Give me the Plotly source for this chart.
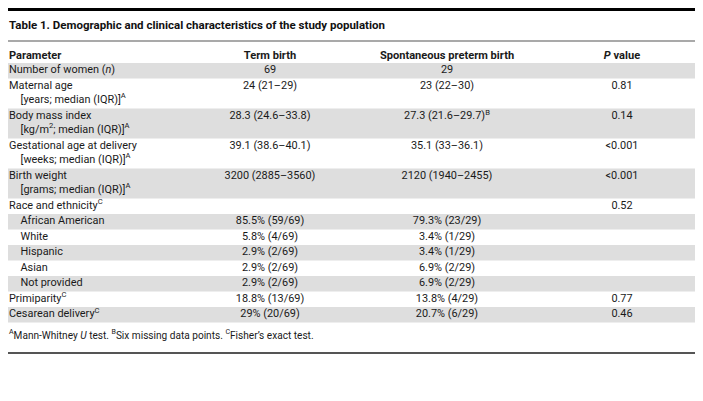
import plotly.graph_objects as go

# ---------------- data ----------------
title = "Table 1. Demographic and clinical characteristics of the study population"
headers = ["Parameter", "Term birth", "Spontaneous preterm birth", "<i>P</i> value"]

parameters = [
    "Number of women (<i>n</i>)",
    "Maternal age",
    "Body mass index",
    "Gestational age at delivery",
    "Birth weight",
    "Race and ethnicity<sup>C</sup>",
    "African American",
    "White",
    "Hispanic",
    "Asian",
    "Not provided",
    "Primiparity<sup>C</sup>",
    "Cesarean delivery<sup>C</sup>",
]
units = [
    "",
    "[years; median (IQR)]<sup>A</sup>",
    "[kg/m<sup>2</sup>; median (IQR)]<sup>A</sup>",
    "[weeks; median (IQR)]<sup>A</sup>",
    "[grams; median (IQR)]<sup>A</sup>",
    "", "", "", "", "", "", "", "",
]
indented = [False, False, False, False, False, False, True, True, True, True, True, False, False]

term_birth = [
    "69", "24 (21–29)", "28.3 (24.6–33.8)", "39.1 (38.6–40.1)", "3200 (2885–3560)", "",
    "85.5% (59/69)", "5.8% (4/69)", "2.9% (2/69)", "2.9% (2/69)", "2.9% (2/69)",
    "18.8% (13/69)", "29% (20/69)",
]
preterm_birth = [
    "29", "23 (22–30)", "27.3 (21.6–29.7)<sup>B</sup>", "35.1 (33–36.1)", "2120 (1940–2455)", "",
    "79.3% (23/29)", "3.4% (1/29)", "3.4% (1/29)", "6.9% (2/29)", "6.9% (2/29)",
    "13.8% (4/29)", "20.7% (6/29)",
]
p_values = ["", "0.81", "0.14", "&lt;0.001", "&lt;0.001", "0.52", "", "", "", "", "", "0.77", "0.46"]

footnote = ("<sup>A</sup>Mann-Whitney <i>U</i> test. <sup>B</sup>Six missing data points. "
            "<sup>C</sup>Fisher’s exact test.")

# ---------------- layout constants ----------------
W, H = 703, 401
FONT = "Roboto"
TXT = "#1a1a1a"
BAND = "#dedede"
RULE = "#555555"
FS = 10.9
FS_HEAD = 11.1
FS_TITLE = 11.5
FS_FOOT = 10.1

TITLE_Y = 18.5
TITLE_RULE_Y = 33
HEADER_Y = 48
TABLE_TOP = 55
SINGLE_H = 15.5
DOUBLE_H = 30
LINE1 = 8.0
LINE2 = 21.6
INDENT = 11.5
LEFT_X = 1
COL_X = [262, 439, 614]
FOOT_Y = 328
BOTTOM_RULE_Y = 345

# compute row geometry from the data structure
tops, heights = [], []
y = TABLE_TOP
for u in units:
    h = DOUBLE_H if u else SINGLE_H
    tops.append(y)
    heights.append(h)
    y += h

first_line_y = [t + (LINE1 if u else SINGLE_H / 2) for t, u in zip(tops, units)]

fig = go.Figure()

# row bands
shapes = []
for i, (t, h) in enumerate(zip(tops, heights)):
    if i % 2 == 0:
        shapes.append(dict(type="rect", xref="x", yref="y", x0=0, x1=W, y0=t, y1=t + h,
                           fillcolor=BAND, line=dict(width=0), layer="below"))
# rules
shapes.append(dict(type="rect", xref="x", yref="y", x0=0, x1=W, y0=0, y1=3,
                   fillcolor="#000000", line=dict(width=0)))
shapes.append(dict(type="line", xref="x", yref="y", x0=0, x1=W, y0=TITLE_RULE_Y, y1=TITLE_RULE_Y,
                   line=dict(color=RULE, width=1.2)))
shapes.append(dict(type="line", xref="x", yref="y", x0=0, x1=W, y0=BOTTOM_RULE_Y, y1=BOTTOM_RULE_Y,
                   line=dict(color=RULE, width=2)))

font = dict(family=FONT, size=FS, color=TXT)


def text_trace(xs, ys, texts, pos, fnt):
    keep = [i for i, t in enumerate(texts) if t]
    return go.Scatter(x=[xs[i] for i in keep], y=[ys[i] for i in keep],
                      text=[texts[i] for i in keep], mode="text", textposition=pos,
                      textfont=fnt, hoverinfo="skip", cliponaxis=False)


n = len(parameters)
# parameter labels
fig.add_trace(text_trace([LEFT_X + (INDENT if ind else 0) for ind in indented], first_line_y,
                         parameters, "middle right", font))
# unit sub-lines
fig.add_trace(text_trace([LEFT_X + INDENT] * n, [t + LINE2 for t in tops],
                         units, "middle right", font))
# value columns
for cx, col in zip(COL_X, [term_birth, preterm_birth, p_values]):
    fig.add_trace(text_trace([cx] * n, first_line_y, col, "middle center", font))

# headers
head_font = dict(family=FONT, size=FS_HEAD, color=TXT)
fig.add_trace(text_trace([LEFT_X], [HEADER_Y], ["<b>%s</b>" % headers[0]], "middle right", head_font))
fig.add_trace(text_trace(COL_X, [HEADER_Y] * 3, ["<b>%s</b>" % h for h in headers[1:]],
                         "middle center", head_font))

# title
fig.add_trace(text_trace([LEFT_X], [TITLE_Y], ["<b>%s</b>" % title], "middle right",
                         dict(family=FONT, size=FS_TITLE, color="#111111")))
# footnote
fig.add_trace(text_trace([LEFT_X], [FOOT_Y], [footnote], "middle right",
                         dict(family=FONT, size=FS_FOOT, color=TXT)))

fig.update_layout(
    width=W, height=H, margin=dict(l=0, r=0, t=0, b=0),
    paper_bgcolor="white", plot_bgcolor="white", showlegend=False,
    shapes=shapes,
    xaxis=dict(range=[0, W], visible=False, fixedrange=True),
    yaxis=dict(range=[H, 0], visible=False, fixedrange=True),
)

fig.write_html("out.html")
